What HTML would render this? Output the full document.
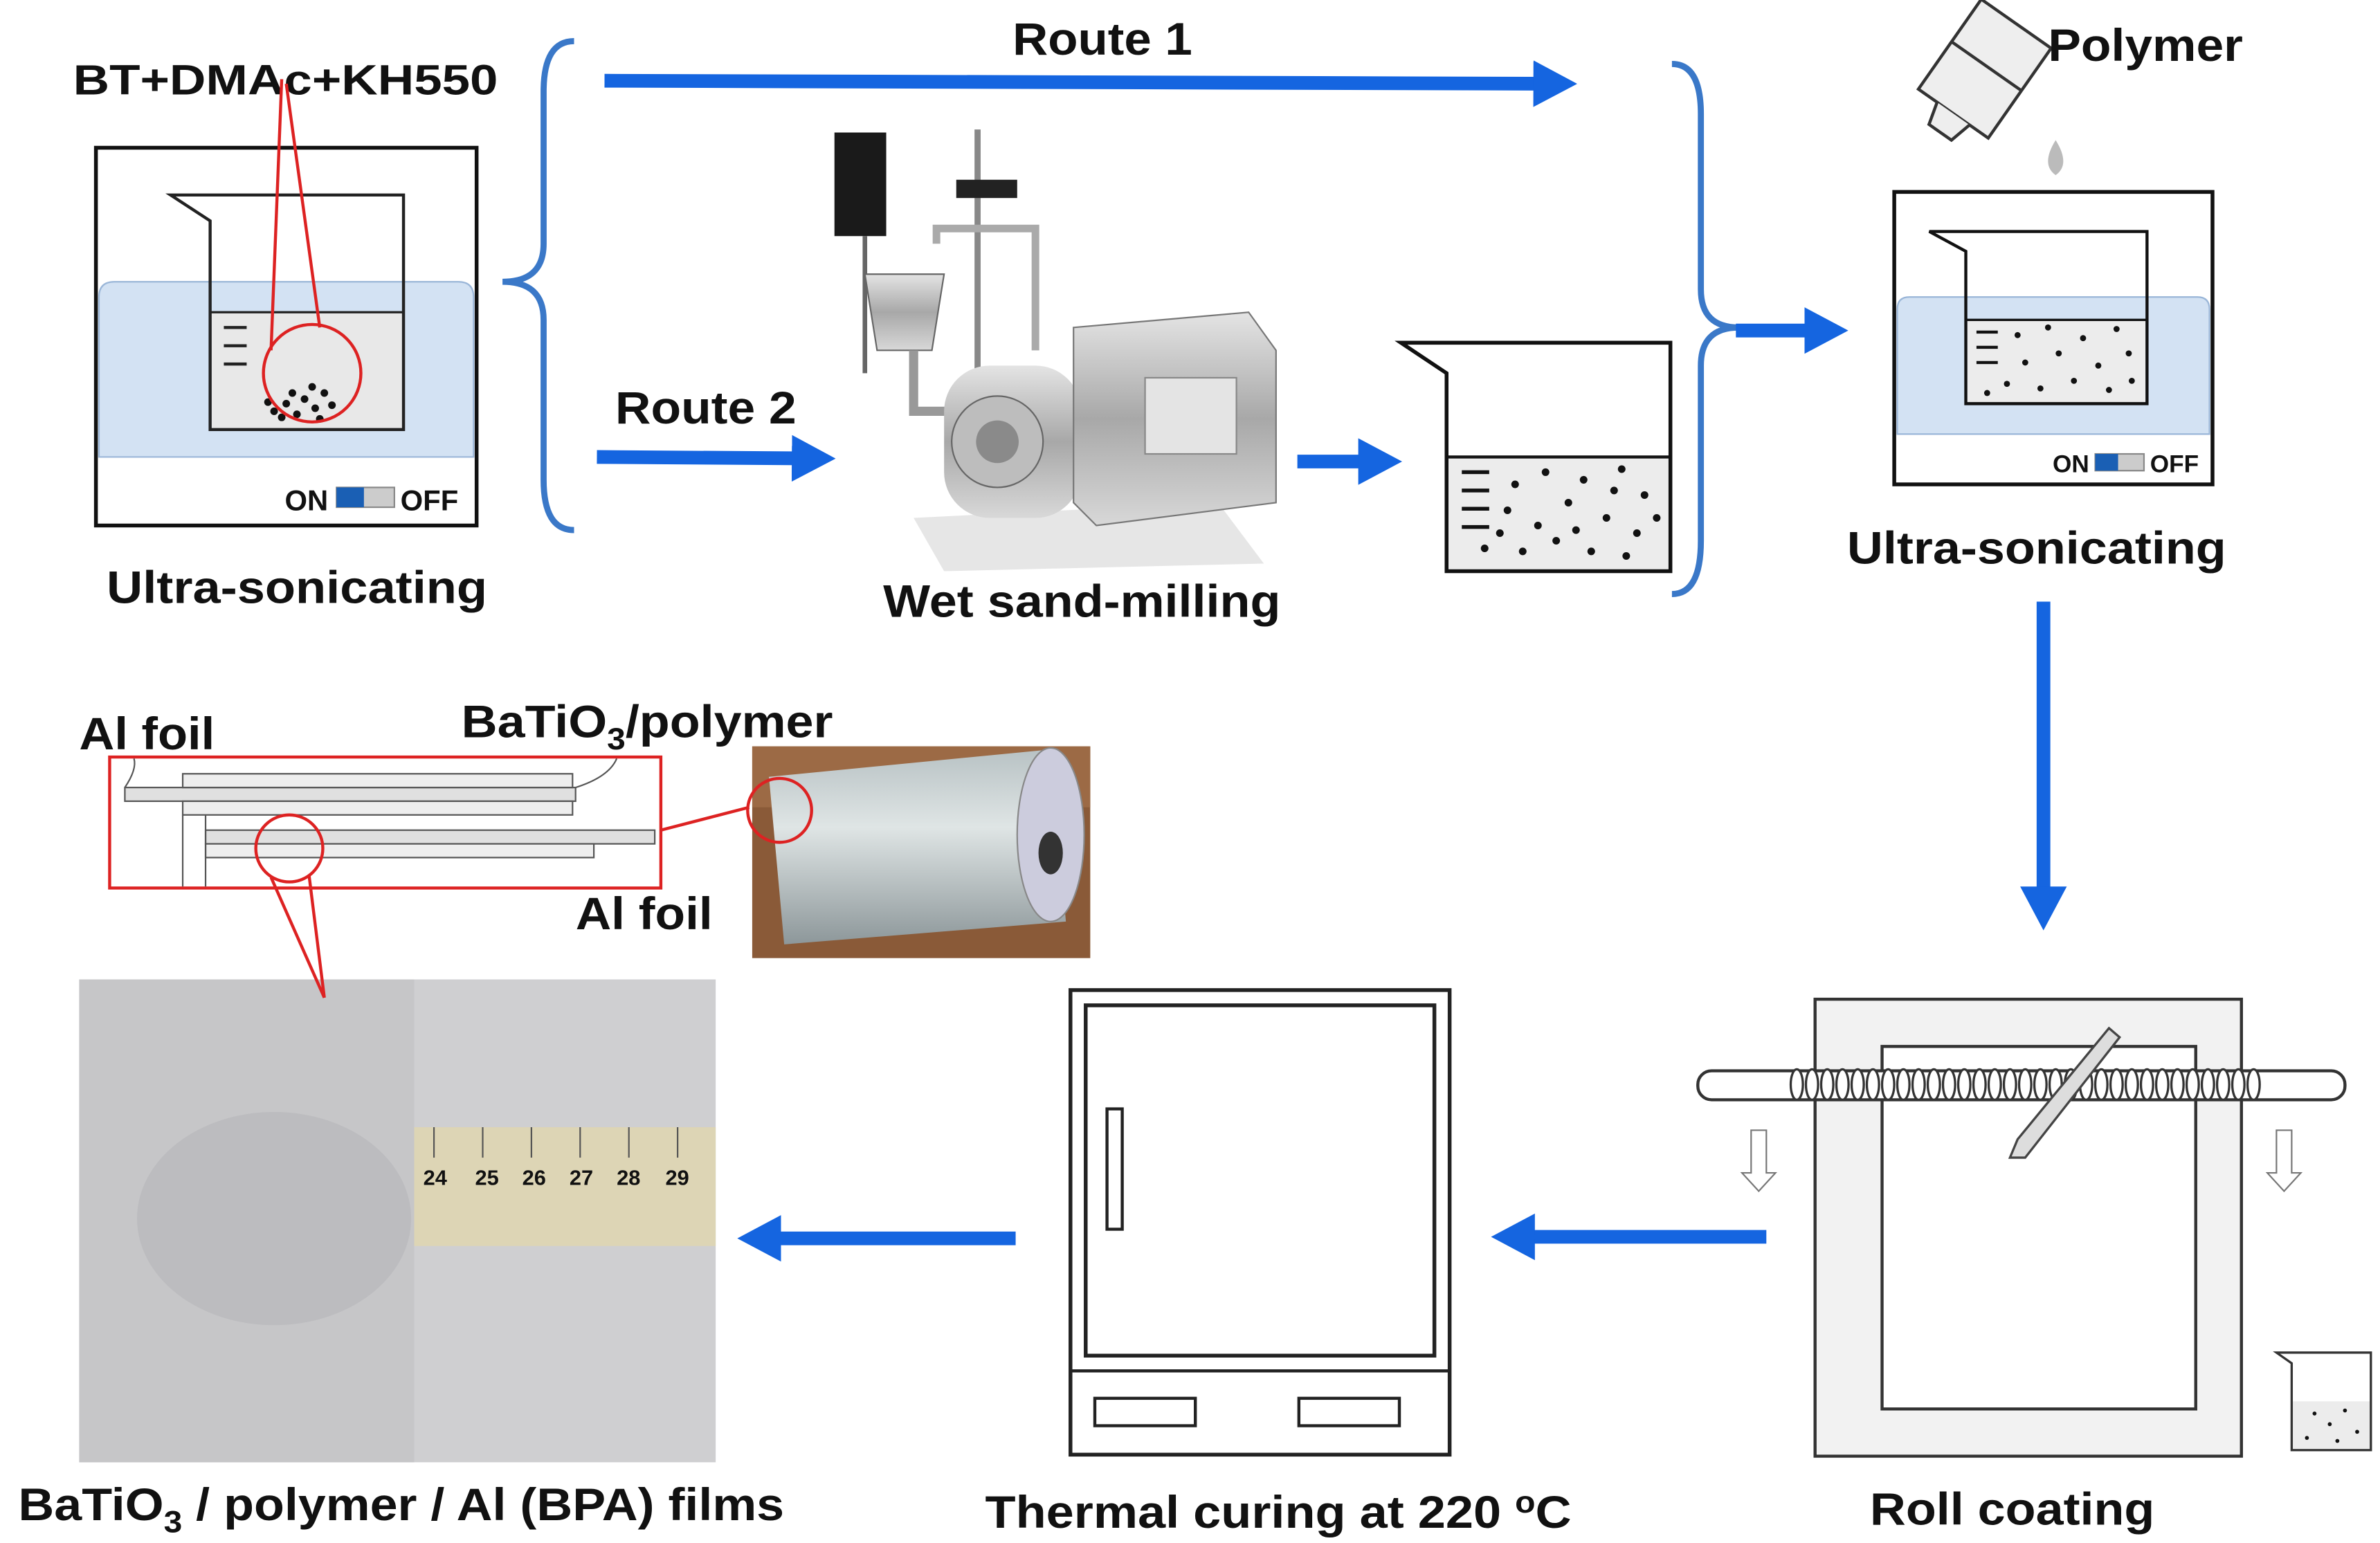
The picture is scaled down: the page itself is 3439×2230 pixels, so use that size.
<!DOCTYPE html>
<html><head><meta charset="utf-8"><style>
html,body{margin:0;padding:0;background:#fff}
svg{display:block}
text{font-family:"Liberation Sans",Arial,sans-serif;font-weight:bold;fill:#111}
</style></head><body>
<svg width="3439" height="2230" viewBox="0 0 1563 1013" preserveAspectRatio="none" xmlns="http://www.w3.org/2000/svg">
<defs>
<marker id="ah" markerWidth="4" markerHeight="4" refX="2" refY="2" orient="auto" markerUnits="strokeWidth"><path d="M0,0.3 L3.2,2 L0,3.7 z" fill="#1565e0"/></marker>
<linearGradient id="steel" x1="0" y1="0" x2="0" y2="1"><stop offset="0" stop-color="#e4e4e4"/><stop offset="0.5" stop-color="#a8a8a8"/><stop offset="1" stop-color="#d8d8d8"/></linearGradient>
<linearGradient id="cyl" x1="0" y1="0" x2="0" y2="1"><stop offset="0" stop-color="#b8c2c4"/><stop offset="0.4" stop-color="#dfe5e5"/><stop offset="1" stop-color="#8d979a"/></linearGradient>
</defs>

<!-- Left ultrasonic -->
<text x="48" y="62" font-size="28" textLength="279" lengthAdjust="spacingAndGlyphs">BT+DMAc+KH550</text>
<rect x="63" y="97" width="250" height="248" fill="#fff" stroke="#111" stroke-width="2.5"/>
<path d="M65,300 L65,195 Q65,185 75,185 L301,185 Q311,185 311,195 L311,300 Z" fill="#d3e2f3" stroke="#9ab6d8"/>
<rect x="139" y="205" width="125" height="76" fill="#e8e8e8"/>
<path d="M112,128 L138,145 L138,282 L265,282 L265,128 Z" fill="none" stroke="#222" stroke-width="2"/>
<line x1="138" y1="205" x2="265" y2="205" stroke="#222" stroke-width="1.5"/>
<g stroke="#222" stroke-width="2"><line x1="147" y1="215" x2="162" y2="215"/><line x1="147" y1="227" x2="162" y2="227"/><line x1="147" y1="239" x2="162" y2="239"/></g>
<g fill="#111"><circle cx="180" cy="270" r="2.5"/><circle cx="188" cy="265" r="2.5"/><circle cx="195" cy="272" r="2.5"/><circle cx="200" cy="262" r="2.5"/><circle cx="207" cy="268" r="2.5"/><circle cx="213" cy="258" r="2.5"/><circle cx="218" cy="266" r="2.5"/><circle cx="205" cy="254" r="2.5"/><circle cx="192" cy="258" r="2.5"/><circle cx="185" cy="274" r="2.5"/><circle cx="210" cy="275" r="2.5"/><circle cx="176" cy="264" r="2.5"/></g>
<circle cx="205" cy="245" r="32" fill="none" stroke="#d22" stroke-width="2"/>
<line x1="185" y1="52" x2="178" y2="230" stroke="#d22" stroke-width="2"/>
<line x1="188" y1="55" x2="210" y2="215" stroke="#d22" stroke-width="2"/>
<text x="187" y="335" font-size="19" font-weight="normal">ON</text>
<rect x="221" y="320" width="38" height="13" fill="#ccc" stroke="#888"/><rect x="221" y="320" width="18" height="13" fill="#1a5fb4"/>
<text x="263" y="335" font-size="19" font-weight="normal">OFF</text>
<text x="70" y="396" font-size="30" textLength="250" lengthAdjust="spacingAndGlyphs">Ultra-sonicating</text>

<!-- Left brace -->
<path d="M377,27 Q357,27 357,60 L357,160 Q357,185 330,185 Q357,185 357,210 L357,315 Q357,348 377,348" fill="none" stroke="#3a78c8" stroke-width="4"/>

<!-- Route arrows -->
<text x="665" y="36" font-size="30" textLength="118" lengthAdjust="spacingAndGlyphs">Route 1</text>
<line x1="397" y1="53" x2="1025" y2="55" stroke="#1565e0" stroke-width="9" marker-end="url(#ah)"/>
<text x="404" y="278" font-size="30" textLength="119" lengthAdjust="spacingAndGlyphs">Route 2</text>
<line x1="392" y1="300" x2="538" y2="301" stroke="#1565e0" stroke-width="9" marker-end="url(#ah)"/>
<line x1="852" y1="303" x2="910" y2="303" stroke="#1565e0" stroke-width="9" marker-end="url(#ah)"/>

<!-- Milling machine -->
<rect x="548" y="87" width="34" height="68" fill="#1a1a1a"/>
<line x1="642" y1="85" x2="642" y2="300" stroke="#888" stroke-width="4"/>
<rect x="628" y="118" width="40" height="12" fill="#222"/>
<line x1="568" y1="155" x2="568" y2="245" stroke="#666" stroke-width="3"/>
<path d="M568,180 L620,180 L612,230 L576,230 Z" fill="url(#steel)" stroke="#666"/>
<path d="M600,230 L600,270 L640,270" fill="none" stroke="#999" stroke-width="6"/>
<path d="M615,160 L615,150 L680,150 L680,230" fill="none" stroke="#aaa" stroke-width="5"/>
<path d="M600,340 L800,330 L830,370 L620,375 Z" fill="#e6e6e6"/>
<rect x="620" y="240" width="90" height="100" rx="30" fill="url(#steel)"/>
<path d="M705,215 L820,205 L838,230 L838,330 L720,345 L705,330 Z" fill="url(#steel)" stroke="#777"/>
<rect x="752" y="248" width="60" height="50" fill="#e4e4e4" stroke="#888"/>
<circle cx="655" cy="290" r="30" fill="#bdbdbd" stroke="#666"/>
<circle cx="655" cy="290" r="14" fill="#8a8a8a"/>
<text x="580" y="405" font-size="30" textLength="261" lengthAdjust="spacingAndGlyphs">Wet sand-milling</text>

<!-- Middle beaker -->
<rect x="951" y="300" width="146" height="75" fill="#ececec"/>
<path d="M920,225 L950,245 L950,375 L1097,375 L1097,225 Z" fill="none" stroke="#111" stroke-width="2.5"/>
<line x1="950" y1="300" x2="1097" y2="300" stroke="#111" stroke-width="2"/>
<g stroke="#111" stroke-width="2.5"><line x1="960" y1="310" x2="978" y2="310"/><line x1="960" y1="322" x2="978" y2="322"/><line x1="960" y1="334" x2="978" y2="334"/><line x1="960" y1="346" x2="978" y2="346"/></g>
<g fill="#111">
<circle cx="995" cy="318" r="2.5"/><circle cx="1015" cy="310" r="2.5"/><circle cx="1040" cy="315" r="2.5"/><circle cx="1065" cy="308" r="2.5"/><circle cx="1080" cy="325" r="2.5"/><circle cx="990" cy="335" r="2.5"/><circle cx="1010" cy="345" r="2.5"/><circle cx="1030" cy="330" r="2.5"/><circle cx="1055" cy="340" r="2.5"/><circle cx="1075" cy="350" r="2.5"/><circle cx="975" cy="360" r="2.5"/><circle cx="1000" cy="362" r="2.5"/><circle cx="1022" cy="355" r="2.5"/><circle cx="1045" cy="362" r="2.5"/><circle cx="1068" cy="365" r="2.5"/><circle cx="1088" cy="340" r="2.5"/><circle cx="985" cy="350" r="2.5"/><circle cx="1035" cy="348" r="2.5"/><circle cx="1060" cy="322" r="2.5"/></g>

<!-- Right brace -->
<path d="M1098,42 Q1117,42 1117,75 L1117,190 Q1117,215 1142,215 Q1117,215 1117,240 L1117,355 Q1117,390 1098,390" fill="none" stroke="#3a78c8" stroke-width="4"/>
<line x1="1140" y1="217" x2="1203" y2="217" stroke="#1565e0" stroke-width="9" marker-end="url(#ah)"/>

<!-- Polymer bottle -->
<g transform="rotate(35 1300 50)">
<rect x="1272" y="8" width="56" height="72" fill="#eee" stroke="#333" stroke-width="2"/>
<line x1="1272" y1="42" x2="1328" y2="42" stroke="#333" stroke-width="2"/>
<path d="M1287,80 L1291,95 L1309,95 L1313,80" fill="#eee" stroke="#333" stroke-width="2"/>
</g>
<path d="M1350,92 Q1340,108 1350,115 Q1360,108 1350,92 Z" fill="#bbb"/>
<text x="1345" y="40" font-size="30" textLength="128" lengthAdjust="spacingAndGlyphs">Polymer</text>

<!-- Right ultrasonic -->
<rect x="1244" y="126" width="209" height="192" fill="#fff" stroke="#111" stroke-width="2.5"/>
<path d="M1246,285 L1246,203 Q1246,195 1254,195 L1443,195 Q1451,195 1451,203 L1451,285 Z" fill="#d3e2f3" stroke="#9ab6d8"/>
<rect x="1292" y="210" width="117" height="54" fill="#ececec"/>
<path d="M1267,152 L1291,165 L1291,265 L1410,265 L1410,152 Z" fill="none" stroke="#111" stroke-width="2"/>
<line x1="1291" y1="210" x2="1410" y2="210" stroke="#111" stroke-width="1.5"/>
<g stroke="#111" stroke-width="2"><line x1="1298" y1="218" x2="1312" y2="218"/><line x1="1298" y1="228" x2="1312" y2="228"/><line x1="1298" y1="238" x2="1312" y2="238"/></g>
<g fill="#111"><circle cx="1325" cy="220" r="2"/><circle cx="1345" cy="215" r="2"/><circle cx="1368" cy="222" r="2"/><circle cx="1390" cy="216" r="2"/><circle cx="1330" cy="238" r="2"/><circle cx="1352" cy="232" r="2"/><circle cx="1378" cy="240" r="2"/><circle cx="1398" cy="232" r="2"/><circle cx="1318" cy="252" r="2"/><circle cx="1340" cy="255" r="2"/><circle cx="1362" cy="250" r="2"/><circle cx="1385" cy="256" r="2"/><circle cx="1305" cy="258" r="2"/><circle cx="1400" cy="250" r="2"/></g>
<text x="1348" y="310" font-size="16" font-weight="normal">ON</text>
<rect x="1376" y="298" width="32" height="11" fill="#ccc" stroke="#888"/><rect x="1376" y="298" width="15" height="11" fill="#1a5fb4"/>
<text x="1412" y="310" font-size="16" font-weight="normal">OFF</text>
<text x="1213" y="370" font-size="30" textLength="249" lengthAdjust="spacingAndGlyphs">Ultra-sonicating</text>

<line x1="1342" y1="395" x2="1342" y2="600" stroke="#1565e0" stroke-width="9" marker-end="url(#ah)"/>

<!-- Roll coating -->
<rect x="1192" y="656" width="280" height="300" fill="#f2f2f2" stroke="#333" stroke-width="2"/>
<rect x="1236" y="687" width="206" height="238" fill="#fff" stroke="#333" stroke-width="2"/>
<rect x="1115" y="703" width="425" height="19" rx="9" fill="#fff" stroke="#333" stroke-width="2"/>
<g fill="#fff" stroke="#333" stroke-width="1.5">
<ellipse cx="1180" cy="712" rx="4" ry="10"/><ellipse cx="1190" cy="712" rx="4" ry="10"/><ellipse cx="1200" cy="712" rx="4" ry="10"/><ellipse cx="1210" cy="712" rx="4" ry="10"/><ellipse cx="1220" cy="712" rx="4" ry="10"/><ellipse cx="1230" cy="712" rx="4" ry="10"/><ellipse cx="1240" cy="712" rx="4" ry="10"/><ellipse cx="1250" cy="712" rx="4" ry="10"/><ellipse cx="1260" cy="712" rx="4" ry="10"/><ellipse cx="1270" cy="712" rx="4" ry="10"/><ellipse cx="1280" cy="712" rx="4" ry="10"/><ellipse cx="1290" cy="712" rx="4" ry="10"/><ellipse cx="1300" cy="712" rx="4" ry="10"/><ellipse cx="1310" cy="712" rx="4" ry="10"/><ellipse cx="1320" cy="712" rx="4" ry="10"/><ellipse cx="1330" cy="712" rx="4" ry="10"/><ellipse cx="1340" cy="712" rx="4" ry="10"/><ellipse cx="1350" cy="712" rx="4" ry="10"/><ellipse cx="1360" cy="712" rx="4" ry="10"/><ellipse cx="1370" cy="712" rx="4" ry="10"/><ellipse cx="1380" cy="712" rx="4" ry="10"/><ellipse cx="1390" cy="712" rx="4" ry="10"/><ellipse cx="1400" cy="712" rx="4" ry="10"/><ellipse cx="1410" cy="712" rx="4" ry="10"/><ellipse cx="1420" cy="712" rx="4" ry="10"/><ellipse cx="1430" cy="712" rx="4" ry="10"/><ellipse cx="1440" cy="712" rx="4" ry="10"/><ellipse cx="1450" cy="712" rx="4" ry="10"/><ellipse cx="1460" cy="712" rx="4" ry="10"/><ellipse cx="1470" cy="712" rx="4" ry="10"/><ellipse cx="1480" cy="712" rx="4" ry="10"/></g>
<path d="M1385,675 L1392,681 L1330,760 L1320,760 L1325,748 Z" fill="#ddd" stroke="#444" stroke-width="1.5"/>
<path d="M1150,742 h10 v28 h6 l-11,12 l-11,-12 h6 z" fill="#fff" stroke="#777"/>
<path d="M1495,742 h10 v28 h6 l-11,12 l-11,-12 h6 z" fill="#fff" stroke="#777"/>
<rect x="1505" y="920" width="52" height="32" fill="#ececec"/>
<path d="M1495,888 L1505,895 L1505,952 L1557,952 L1557,888 Z" fill="none" stroke="#333" stroke-width="1.5"/>
<g fill="#111"><circle cx="1520" cy="928" r="1.3"/><circle cx="1530" cy="935" r="1.3"/><circle cx="1540" cy="926" r="1.3"/><circle cx="1548" cy="940" r="1.3"/><circle cx="1515" cy="944" r="1.3"/><circle cx="1535" cy="946" r="1.3"/></g>
<text x="1228" y="1001" font-size="30" textLength="187" lengthAdjust="spacingAndGlyphs">Roll coating</text>

<line x1="1160" y1="812" x2="990" y2="812" stroke="#1565e0" stroke-width="9" marker-end="url(#ah)"/>

<!-- Oven -->
<rect x="703" y="650" width="249" height="305" fill="#fff" stroke="#222" stroke-width="2.5"/>
<rect x="713" y="660" width="229" height="230" fill="#fff" stroke="#222" stroke-width="2.5"/>
<line x1="703" y1="900" x2="952" y2="900" stroke="#222" stroke-width="2"/>
<rect x="727" y="728" width="10" height="79" fill="#fff" stroke="#222" stroke-width="2"/>
<rect x="719" y="918" width="66" height="18" fill="#fff" stroke="#222" stroke-width="2"/>
<rect x="853" y="918" width="66" height="18" fill="#fff" stroke="#222" stroke-width="2"/>
<text x="647" y="1003" font-size="30" textLength="385" lengthAdjust="spacingAndGlyphs">Thermal curing at 220 <tspan font-size="20" dy="-10">o</tspan><tspan dy="10">C</tspan></text>

<line x1="667" y1="813" x2="495" y2="813" stroke="#1565e0" stroke-width="9" marker-end="url(#ah)"/>

<!-- Film photo -->
<rect x="52" y="643" width="418" height="317" fill="#cfcfd1"/>
<rect x="52" y="643" width="220" height="317" fill="#c6c6c8"/>
<ellipse cx="180" cy="800" rx="90" ry="70" fill="#bcbcbf"/>
<rect x="272" y="740" width="198" height="78" fill="#ddd5b5"/>
<g stroke="#555" stroke-width="1">
<line x1="285" y1="740" x2="285" y2="760"/><line x1="317" y1="740" x2="317" y2="760"/><line x1="349" y1="740" x2="349" y2="760"/><line x1="381" y1="740" x2="381" y2="760"/><line x1="413" y1="740" x2="413" y2="760"/><line x1="445" y1="740" x2="445" y2="760"/></g>
<g font-size="14" font-weight="normal"><text x="278" y="778">24</text><text x="312" y="778">25</text><text x="343" y="778">26</text><text x="374" y="778">27</text><text x="405" y="778">28</text><text x="437" y="778">29</text></g>
<text x="12" y="998" font-size="30" textLength="503" lengthAdjust="spacingAndGlyphs">BaTiO<tspan font-size="20" dy="8">3</tspan><tspan dy="-8"> / polymer / Al (BPA) films</tspan></text>

<!-- Layer diagram -->
<text x="52" y="492" font-size="30" textLength="89" lengthAdjust="spacingAndGlyphs">Al foil</text>
<text x="303" y="484" font-size="30" textLength="244" lengthAdjust="spacingAndGlyphs">BaTiO<tspan font-size="20" dy="8">3</tspan><tspan dy="-8">/polymer</tspan></text>
<rect x="72" y="497" width="362" height="86" fill="#fff" stroke="#d22" stroke-width="2"/>
<rect x="82" y="517" width="296" height="9" fill="#e0e0e0" stroke="#555"/>
<rect x="120" y="508" width="256" height="9" fill="#eee" stroke="#555"/>
<rect x="120" y="526" width="256" height="9" fill="#eee" stroke="#555"/>
<rect x="135" y="545" width="295" height="9" fill="#e0e0e0" stroke="#555"/>
<rect x="135" y="554" width="255" height="9" fill="#eee" stroke="#555"/>
<line x1="120" y1="535" x2="120" y2="582" stroke="#555"/><line x1="135" y1="535" x2="135" y2="582" stroke="#555"/>
<path d="M82,517 Q90,505 88,498" fill="none" stroke="#555"/>
<path d="M378,517 Q400,510 405,498" fill="none" stroke="#555"/>
<circle cx="190" cy="557" r="22" fill="none" stroke="#d22" stroke-width="2"/>
<line x1="178" y1="576" x2="213" y2="655" stroke="#d22" stroke-width="2"/>
<line x1="203" y1="575" x2="213" y2="655" stroke="#d22" stroke-width="2"/>
<text x="378" y="610" font-size="30" textLength="90" lengthAdjust="spacingAndGlyphs">Al foil</text>
<line x1="434" y1="545" x2="492" y2="530" stroke="#d22" stroke-width="2"/>

<!-- Roll photo -->
<rect x="494" y="490" width="222" height="139" fill="#8a5a38"/>
<rect x="494" y="490" width="222" height="40" fill="#9c6a45"/>
<path d="M505,510 L690,492 L700,605 L515,620 Z" fill="url(#cyl)"/>
<ellipse cx="690" cy="548" rx="22" ry="57" fill="#ccd" stroke="#888"/>
<ellipse cx="690" cy="560" rx="8" ry="14" fill="#333"/>
<circle cx="512" cy="532" r="21" fill="none" stroke="#d22" stroke-width="2"/>
</svg>
</body></html>
